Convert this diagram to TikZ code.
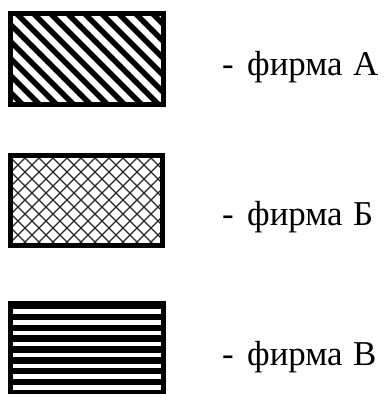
\documentclass[tikz,border=0pt]{standalone}
\usepackage{fontspec}
\setmainfont{Liberation Serif}
\newcommand{\legendtext}[1]{\makebox[25bp][l]{-}\makebox[106bp][l]{фирма}#1}
\begin{document}
\begin{tikzpicture}[x=1bp,y=-1bp,
  frame/.style={line width=5bp, draw=black},
  stripe/.style={line width=5.5bp, black},
  hatch/.style={line width=1.1bp, black!85},
  legend/.style={anchor=base west, inner sep=0pt, font=\fontsize{35}{42}\selectfont}]
\useasboundingbox (0,0) rectangle (385,394);
% Box A: diagonal stripes
\begin{scope}
  \clip (11,14) rectangle (163,104);
  \foreach \c in {-116,-99,...,170} \draw[stripe] (\c,0) -- ++(150,150);
\end{scope}
\draw[frame] (10.5,13.5) rectangle (163.5,104.5);
% Box B: cross hatch
\begin{scope}
  \clip (11,156) rectangle (162,245);
  \foreach \c in {-106,-92,...,180} \draw[hatch] (\c,153) -- ++(100,100);
  \foreach \c in {2,16,...,290} \draw[hatch] (\c,153) -- ++(-100,100);
\end{scope}
\draw[frame] (10.5,155.5) rectangle (162.5,245.5);
% Box C: horizontal stripes
\fill[black] (8,301) rectangle (165.5,393.5);
\foreach \k in {0,...,7} \draw[white, line width=4.5bp] (13,311.5+10.86*\k) -- (160.5,311.5+10.86*\k);
% Labels
\node[legend] (la) at (222,75) {\legendtext{А}};
\node[legend] (lb) at (222,225) {\legendtext{Б}};
\node[legend] (lc) at (222,365) {\legendtext{В}};
\end{tikzpicture}
\end{document}
